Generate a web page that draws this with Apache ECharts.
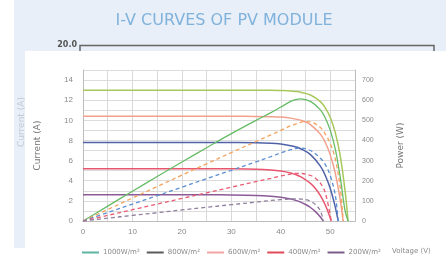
<!DOCTYPE html>
<html>
<head>
<meta charset="utf-8">
<script src="https://cdn.jsdelivr.net/npm/echarts@6/dist/echarts.min.js"></script>
<style>
  html, body { margin: 0; padding: 0; background: #fff; }
  #pvChart { width: 446px; height: 258px; }
</style>
</head>
<body>
<div id="pvChart"></div>
<script>
// irradiance labels (legend)
const irradiance = ['1000W/m²', '800W/m²', '600W/m²', '400W/m²', '200W/m²']

// voltage points for each curve (V)
const v1000 = [0, 5, 10, 15, 20, 25, 30, 35, 38, 40, 42, 43, 44, 46, 48, 49, 50, 51, 52, 53, 53.6]
const v800 = [0, 5, 10, 15, 20, 25, 30, 35, 38, 40, 42, 44, 45, 46, 48, 49, 50, 51, 52, 52.6]
const v600 = [0, 5, 10, 15, 20, 25, 30, 35, 38, 40, 42, 43, 44, 46, 48, 49, 50, 51, 51.6]
const v400 = [0, 5, 10, 15, 20, 25, 30, 35, 38, 40, 42, 43, 44, 46, 47, 48, 49, 50.2]
const v200 = [0, 5, 10, 15, 20, 25, 30, 35, 38, 40, 42, 43, 44, 45, 46, 47, 48, 48.6]

// current (A)
const i1000 = [13, 13, 13, 13, 13, 13, 13, 12.99, 12.99, 12.96, 12.92, 12.87, 12.8, 12.52, 11.86, 11.24, 10.28, 8.8, 6.52, 2.97, 0]
const i800 = [10.4, 10.4, 10.4, 10.4, 10.4, 10.4, 10.4, 10.39, 10.36, 10.32, 10.22, 10.02, 9.84, 9.58, 8.63, 7.8, 6.57, 4.78, 2.14, 0]
const i600 = [7.8, 7.8, 7.8, 7.8, 7.8, 7.8, 7.79, 7.77, 7.72, 7.64, 7.48, 7.36, 7.18, 6.59, 5.45, 4.52, 3.22, 1.41, 0]
const i400 = [5.2, 5.2, 5.2, 5.2, 5.2, 5.2, 5.19, 5.15, 5.07, 4.96, 4.77, 4.61, 4.4, 3.74, 3.23, 2.53, 1.59, 0]
const i200 = [2.6, 2.6, 2.6, 2.6, 2.6, 2.6, 2.59, 2.54, 2.46, 2.36, 2.18, 2.05, 1.87, 1.64, 1.34, 0.93, 0.4, 0]

// power (W)
const p1000 = [0, 74, 148, 221, 293, 364, 434, 500, 538, 566, 594, 603, 607, 594, 552, 512, 450, 360, 220, 50, 0]
const p800 = [0, 57, 114, 171, 228, 284, 340, 395, 428, 450, 473, 490, 494, 492, 465, 432, 385, 310, 170, 0]
const p600 = [0, 42, 84, 126, 168, 210, 252, 294, 320, 338, 354, 360, 362, 350, 312, 280, 225, 130, 0]
const p400 = [0, 28, 56, 84, 112, 140, 168, 196, 212, 224, 233, 236, 236, 226, 212, 188, 140, 0]
const p200 = [0, 14, 28, 41, 55, 68, 81, 94, 102, 106, 109, 110, 109, 106, 98, 82, 50, 0]

// axis ticks
const currentTicks = [0, 2, 4, 6, 8, 10, 12, 14]
const powerTicks = [0, 100, 200, 300, 400, 500, 600, 700]
const voltageTicks = [0, 10, 20, 30, 40, 50]

const ivColors = ['#a9c85c', '#f2a08c', '#4f62a8', '#e8566e', '#8b5b98']
const pvColors = ['#66bb66', '#f3a35e', '#5b8fd2', '#ea5a72', '#8f7f9c']
const legendColors = ['#5fb4a4', '#5a5a5a', '#f2a4a4', '#e04a58', '#7d5c8c']

const voltages = [v1000, v800, v600, v400, v200]
const currents = [i1000, i800, i600, i400, i200]
const powers = [p1000, p800, p600, p400, p200]

const pairs = (xs, ys) => xs.map((x, k) => [x, ys[k]])

const series = []
irradiance.forEach((name, k) => {
  series.push({
    name: name,
    type: 'line',
    yAxisIndex: 0,
    symbol: 'none',
    smooth: 0.35,
    data: pairs(voltages[k], currents[k]),
    lineStyle: { color: ivColors[k], width: 1.5 },
    itemStyle: { color: ivColors[k] },
    z: 3,
  })
})
irradiance.forEach((name, k) => {
  series.push({
    name: name + ' P',
    type: 'line',
    yAxisIndex: 1,
    symbol: 'none',
    smooth: 0.35,
    data: pairs(voltages[k], powers[k]),
    // 1000W/m2 power curve is solid, the rest dashed
    lineStyle: { color: pvColors[k], width: 1.3, type: k === 0 ? 'solid' : [4, 3] },
    itemStyle: { color: pvColors[k] },
    z: 3,
  })
})

const option = {
  animation: false,
  title: {
    text: 'I-V CURVES OF PV MODULE',
    left: 219,
    textAlign: 'center',
    top: 8,
    textStyle: { color: '#80b2dc', fontSize: 16, fontWeight: 'normal', fontFamily: 'DejaVu Sans' },
  },
  // background panels of the picture
  graphic: [
    { type: 'rect', z: -20, shape: { x: 14, y: 0, width: 432, height: 248 }, style: { fill: '#e8eff8' } },
    {
      type: 'text', z: -19, x: 22, y: 122, rotation: Math.PI / 2,
      style: { text: 'Current (A)', fill: '#c4cbd3', font: '9px DejaVu Sans', align: 'center', verticalAlign: 'middle' },
    },
    {
      type: 'text', z: -19, x: 77, y: 45,
      style: { text: '20.0', fill: '#555', font: 'bold 8px DejaVu Sans', align: 'right', verticalAlign: 'middle' },
    },
    {
      type: 'polyline', z: -19,
      shape: { points: [[80, 53], [80, 45.5], [434, 45.5], [434, 53]] },
      style: { stroke: '#666', lineWidth: 1.5, fill: null },
    },
    { type: 'rect', z: -18, shape: { x: 25, y: 51, width: 421, height: 207 }, style: { fill: '#ffffff' } },
    {
      type: 'text', z: 5, x: 392, y: 251,
      style: { text: 'Voltage (V)', fill: '#8a8a8a', font: '7px DejaVu Sans', verticalAlign: 'middle' },
    },
  ],
  legend: {
    left: 77,
    top: 244,
    itemWidth: 17,
    itemHeight: 2,
    itemGap: 7,
    textStyle: { color: '#8a8a8a', fontSize: 7, fontFamily: 'DejaVu Sans', padding: [0, 0, 0, -1] },
    data: irradiance.map((name, k) => ({
      name: name,
      icon: 'rect',
      itemStyle: { color: legendColors[k] },
    })),
  },
  grid: { left: 83, right: 91, top: 70, bottom: 37 },
  xAxis: {
    type: 'value',
    min: 0,
    max: 55,
    interval: 5,
    axisLine: { show: true, lineStyle: { color: '#bdbdbd' } },
    axisTick: { show: false },
    axisLabel: {
      color: '#8a8a8a',
      fontSize: 8,
      margin: 7,
      formatter: (val) => (voltageTicks.includes(val) ? String(val) : ''),
    },
    splitLine: { show: true, lineStyle: { color: '#d9d9d9', width: 1 } },
  },
  yAxis: [
    {
      type: 'value',
      min: 0,
      max: 15,
      interval: 1,
      name: 'Current (A)',
      nameLocation: 'middle',
      nameRotate: 90,
      nameGap: 41,
      nameTextStyle: { color: '#777', fontSize: 9, fontFamily: 'DejaVu Sans' },
      axisLine: { show: true, lineStyle: { color: '#bdbdbd' } },
      axisTick: { show: false },
      axisLabel: {
        color: '#8a8a8a',
        fontSize: 8,
        margin: 10,
        formatter: (val) => (currentTicks.includes(val) ? String(val) : ''),
      },
      splitLine: { show: true, lineStyle: { color: '#dcdcdc', width: 1 } },
    },
    {
      type: 'value',
      min: 0,
      max: 750,
      interval: 50,
      name: 'Power (W)',
      nameLocation: 'middle',
      nameRotate: 90,
      nameGap: 41,
      nameTextStyle: { color: '#777', fontSize: 9, fontFamily: 'DejaVu Sans' },
      axisLine: { show: true, lineStyle: { color: '#bdbdbd' } },
      axisTick: { show: false },
      axisLabel: {
        color: '#8a8a8a',
        fontSize: 7,
        margin: 7,
        formatter: (val) => (powerTicks.includes(val) ? String(val) : ''),
      },
      splitLine: { show: false },
    },
  ],
  series: series,
}

const pvChart = echarts.init(document.getElementById('pvChart'))
pvChart.setOption(option)
window.onresize = function () {
  pvChart.resize()
}
</script>
</body>
</html>
